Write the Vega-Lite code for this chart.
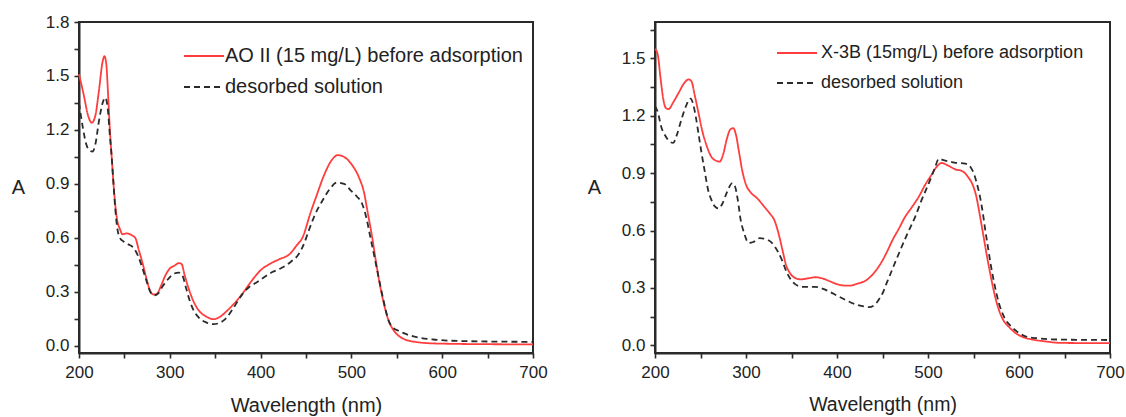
{
  "$schema": "https://vega.github.io/schema/vega-lite/v6.json",
  "padding": {"left": 10, "top": 12, "right": 5, "bottom": 5},
  "background": "white",
  "config": {
    "font": "Liberation Sans",
    "view": {"stroke": "#2a2a2a", "strokeWidth": 2},
    "axis": {
      "grid": false, "domain": true, "domainColor": "#2a2a2a", "domainWidth": 2, "ticks": true, "zindex": 1,
      "tickColor": "#2a2a2a", "tickWidth": 1.6, "labelFlush": false,
      "labelColor": "#222", "labelFontSize": 17, "labelFont": "Liberation Sans",
      "titleColor": "#222", "titleFontSize": 20, "titleFontWeight": "normal", "titleFont": "Liberation Sans"
    },
    "legend": {
      "orient": "none", "symbolType": "stroke", "symbolSize": 1600, "symbolStrokeWidth": 2,
      "labelFontSize": 20, "labelColor": "#222", "labelFont": "Liberation Sans", "labelOffset": 0,
      "rowPadding": -17, "padding": 0, "title": null, "labelLimit": 400
    }
  },
  "datasets": {
    "left": [
      {"series":"AO II (15 mg/L) before adsorption","nm":200,"A":1.51},{"series":"AO II (15 mg/L) before adsorption","nm":205,"A":1.40},{"series":"AO II (15 mg/L) before adsorption","nm":210,"A":1.28},{"series":"AO II (15 mg/L) before adsorption","nm":214,"A":1.24},{"series":"AO II (15 mg/L) before adsorption","nm":218,"A":1.28},{"series":"AO II (15 mg/L) before adsorption","nm":222,"A":1.42},{"series":"AO II (15 mg/L) before adsorption","nm":226,"A":1.58},{"series":"AO II (15 mg/L) before adsorption","nm":228,"A":1.61},{"series":"AO II (15 mg/L) before adsorption","nm":230,"A":1.57},{"series":"AO II (15 mg/L) before adsorption","nm":232,"A":1.40},{"series":"AO II (15 mg/L) before adsorption","nm":234,"A":1.20},{"series":"AO II (15 mg/L) before adsorption","nm":236,"A":1.05},{"series":"AO II (15 mg/L) before adsorption","nm":238,"A":0.90},{"series":"AO II (15 mg/L) before adsorption","nm":240,"A":0.78},{"series":"AO II (15 mg/L) before adsorption","nm":242,"A":0.70},{"series":"AO II (15 mg/L) before adsorption","nm":245,"A":0.65},{"series":"AO II (15 mg/L) before adsorption","nm":248,"A":0.62},{"series":"AO II (15 mg/L) before adsorption","nm":253,"A":0.625},{"series":"AO II (15 mg/L) before adsorption","nm":258,"A":0.615},{"series":"AO II (15 mg/L) before adsorption","nm":262,"A":0.60},{"series":"AO II (15 mg/L) before adsorption","nm":266,"A":0.53},{"series":"AO II (15 mg/L) before adsorption","nm":270,"A":0.46},{"series":"AO II (15 mg/L) before adsorption","nm":274,"A":0.38},{"series":"AO II (15 mg/L) before adsorption","nm":278,"A":0.31},{"series":"AO II (15 mg/L) before adsorption","nm":282,"A":0.285},{"series":"AO II (15 mg/L) before adsorption","nm":286,"A":0.29},{"series":"AO II (15 mg/L) before adsorption","nm":290,"A":0.33},{"series":"AO II (15 mg/L) before adsorption","nm":295,"A":0.39},{"series":"AO II (15 mg/L) before adsorption","nm":300,"A":0.43},{"series":"AO II (15 mg/L) before adsorption","nm":305,"A":0.445},{"series":"AO II (15 mg/L) before adsorption","nm":310,"A":0.46},{"series":"AO II (15 mg/L) before adsorption","nm":313,"A":0.455},{"series":"AO II (15 mg/L) before adsorption","nm":316,"A":0.40},{"series":"AO II (15 mg/L) before adsorption","nm":320,"A":0.33},{"series":"AO II (15 mg/L) before adsorption","nm":325,"A":0.26},{"series":"AO II (15 mg/L) before adsorption","nm":330,"A":0.21},{"series":"AO II (15 mg/L) before adsorption","nm":335,"A":0.18},{"series":"AO II (15 mg/L) before adsorption","nm":340,"A":0.163},{"series":"AO II (15 mg/L) before adsorption","nm":348,"A":0.148},{"series":"AO II (15 mg/L) before adsorption","nm":355,"A":0.16},{"series":"AO II (15 mg/L) before adsorption","nm":362,"A":0.19},{"series":"AO II (15 mg/L) before adsorption","nm":370,"A":0.23},{"series":"AO II (15 mg/L) before adsorption","nm":380,"A":0.29},{"series":"AO II (15 mg/L) before adsorption","nm":390,"A":0.36},{"series":"AO II (15 mg/L) before adsorption","nm":400,"A":0.42},{"series":"AO II (15 mg/L) before adsorption","nm":410,"A":0.455},{"series":"AO II (15 mg/L) before adsorption","nm":420,"A":0.48},{"series":"AO II (15 mg/L) before adsorption","nm":432,"A":0.51},{"series":"AO II (15 mg/L) before adsorption","nm":440,"A":0.56},{"series":"AO II (15 mg/L) before adsorption","nm":446,"A":0.60},{"series":"AO II (15 mg/L) before adsorption","nm":455,"A":0.74},{"series":"AO II (15 mg/L) before adsorption","nm":462,"A":0.84},{"series":"AO II (15 mg/L) before adsorption","nm":470,"A":0.95},{"series":"AO II (15 mg/L) before adsorption","nm":478,"A":1.03},{"series":"AO II (15 mg/L) before adsorption","nm":485,"A":1.06},{"series":"AO II (15 mg/L) before adsorption","nm":492,"A":1.05},{"series":"AO II (15 mg/L) before adsorption","nm":500,"A":1.01},{"series":"AO II (15 mg/L) before adsorption","nm":508,"A":0.94},{"series":"AO II (15 mg/L) before adsorption","nm":514,"A":0.85},{"series":"AO II (15 mg/L) before adsorption","nm":518,"A":0.74},{"series":"AO II (15 mg/L) before adsorption","nm":523,"A":0.60},{"series":"AO II (15 mg/L) before adsorption","nm":527,"A":0.47},{"series":"AO II (15 mg/L) before adsorption","nm":531,"A":0.35},{"series":"AO II (15 mg/L) before adsorption","nm":536,"A":0.23},{"series":"AO II (15 mg/L) before adsorption","nm":541,"A":0.14},{"series":"AO II (15 mg/L) before adsorption","nm":546,"A":0.09},{"series":"AO II (15 mg/L) before adsorption","nm":552,"A":0.056},{"series":"AO II (15 mg/L) before adsorption","nm":560,"A":0.033},{"series":"AO II (15 mg/L) before adsorption","nm":570,"A":0.022},{"series":"AO II (15 mg/L) before adsorption","nm":580,"A":0.016},{"series":"AO II (15 mg/L) before adsorption","nm":600,"A":0.012},{"series":"AO II (15 mg/L) before adsorption","nm":650,"A":0.009},{"series":"AO II (15 mg/L) before adsorption","nm":700,"A":0.008},
      {"series":"desorbed solution","nm":200,"A":1.35},{"series":"desorbed solution","nm":204,"A":1.22},{"series":"desorbed solution","nm":208,"A":1.12},{"series":"desorbed solution","nm":212,"A":1.085},{"series":"desorbed solution","nm":215,"A":1.08},{"series":"desorbed solution","nm":218,"A":1.12},{"series":"desorbed solution","nm":222,"A":1.25},{"series":"desorbed solution","nm":226,"A":1.35},{"series":"desorbed solution","nm":229,"A":1.38},{"series":"desorbed solution","nm":232,"A":1.30},{"series":"desorbed solution","nm":234,"A":1.17},{"series":"desorbed solution","nm":236,"A":1.05},{"series":"desorbed solution","nm":238,"A":0.90},{"series":"desorbed solution","nm":240,"A":0.76},{"series":"desorbed solution","nm":242,"A":0.66},{"series":"desorbed solution","nm":245,"A":0.60},{"series":"desorbed solution","nm":249,"A":0.58},{"series":"desorbed solution","nm":254,"A":0.565},{"series":"desorbed solution","nm":260,"A":0.545},{"series":"desorbed solution","nm":265,"A":0.50},{"series":"desorbed solution","nm":270,"A":0.43},{"series":"desorbed solution","nm":275,"A":0.35},{"series":"desorbed solution","nm":279,"A":0.295},{"series":"desorbed solution","nm":283,"A":0.28},{"series":"desorbed solution","nm":287,"A":0.29},{"series":"desorbed solution","nm":292,"A":0.33},{"series":"desorbed solution","nm":298,"A":0.37},{"series":"desorbed solution","nm":304,"A":0.40},{"series":"desorbed solution","nm":310,"A":0.407},{"series":"desorbed solution","nm":314,"A":0.39},{"series":"desorbed solution","nm":318,"A":0.32},{"series":"desorbed solution","nm":322,"A":0.25},{"series":"desorbed solution","nm":327,"A":0.19},{"series":"desorbed solution","nm":332,"A":0.157},{"series":"desorbed solution","nm":340,"A":0.13},{"series":"desorbed solution","nm":348,"A":0.12},{"series":"desorbed solution","nm":355,"A":0.128},{"series":"desorbed solution","nm":361,"A":0.148},{"series":"desorbed solution","nm":370,"A":0.21},{"series":"desorbed solution","nm":380,"A":0.287},{"series":"desorbed solution","nm":388,"A":0.33},{"series":"desorbed solution","nm":395,"A":0.35},{"series":"desorbed solution","nm":405,"A":0.385},{"series":"desorbed solution","nm":413,"A":0.41},{"series":"desorbed solution","nm":422,"A":0.43},{"series":"desorbed solution","nm":434,"A":0.47},{"series":"desorbed solution","nm":442,"A":0.51},{"series":"desorbed solution","nm":448,"A":0.57},{"series":"desorbed solution","nm":453,"A":0.64},{"series":"desorbed solution","nm":460,"A":0.73},{"series":"desorbed solution","nm":468,"A":0.806},{"series":"desorbed solution","nm":476,"A":0.87},{"series":"desorbed solution","nm":484,"A":0.907},{"series":"desorbed solution","nm":492,"A":0.90},{"series":"desorbed solution","nm":500,"A":0.86},{"series":"desorbed solution","nm":506,"A":0.83},{"series":"desorbed solution","nm":512,"A":0.787},{"series":"desorbed solution","nm":517,"A":0.70},{"series":"desorbed solution","nm":521,"A":0.60},{"series":"desorbed solution","nm":526,"A":0.48},{"series":"desorbed solution","nm":530,"A":0.38},{"series":"desorbed solution","nm":535,"A":0.26},{"series":"desorbed solution","nm":541,"A":0.14},{"series":"desorbed solution","nm":546,"A":0.10},{"series":"desorbed solution","nm":552,"A":0.083},{"series":"desorbed solution","nm":563,"A":0.06},{"series":"desorbed solution","nm":574,"A":0.046},{"series":"desorbed solution","nm":590,"A":0.035},{"series":"desorbed solution","nm":611,"A":0.028},{"series":"desorbed solution","nm":650,"A":0.024},{"series":"desorbed solution","nm":700,"A":0.022}
    ],
    "right": [
      {"series":"X-3B (15mg/L) before adsorption","nm":200,"A":1.55},{"series":"X-3B (15mg/L) before adsorption","nm":203,"A":1.52},{"series":"X-3B (15mg/L) before adsorption","nm":206,"A":1.40},{"series":"X-3B (15mg/L) before adsorption","nm":209,"A":1.29},{"series":"X-3B (15mg/L) before adsorption","nm":212,"A":1.24},{"series":"X-3B (15mg/L) before adsorption","nm":215,"A":1.235},{"series":"X-3B (15mg/L) before adsorption","nm":220,"A":1.27},{"series":"X-3B (15mg/L) before adsorption","nm":226,"A":1.32},{"series":"X-3B (15mg/L) before adsorption","nm":232,"A":1.37},{"series":"X-3B (15mg/L) before adsorption","nm":237,"A":1.39},{"series":"X-3B (15mg/L) before adsorption","nm":240,"A":1.38},{"series":"X-3B (15mg/L) before adsorption","nm":244,"A":1.30},{"series":"X-3B (15mg/L) before adsorption","nm":248,"A":1.21},{"series":"X-3B (15mg/L) before adsorption","nm":252,"A":1.12},{"series":"X-3B (15mg/L) before adsorption","nm":257,"A":1.04},{"series":"X-3B (15mg/L) before adsorption","nm":262,"A":0.985},{"series":"X-3B (15mg/L) before adsorption","nm":267,"A":0.965},{"series":"X-3B (15mg/L) before adsorption","nm":271,"A":0.96},{"series":"X-3B (15mg/L) before adsorption","nm":275,"A":1.00},{"series":"X-3B (15mg/L) before adsorption","nm":279,"A":1.08},{"series":"X-3B (15mg/L) before adsorption","nm":283,"A":1.13},{"series":"X-3B (15mg/L) before adsorption","nm":286,"A":1.135},{"series":"X-3B (15mg/L) before adsorption","nm":289,"A":1.10},{"series":"X-3B (15mg/L) before adsorption","nm":292,"A":1.02},{"series":"X-3B (15mg/L) before adsorption","nm":296,"A":0.91},{"series":"X-3B (15mg/L) before adsorption","nm":300,"A":0.84},{"series":"X-3B (15mg/L) before adsorption","nm":305,"A":0.80},{"series":"X-3B (15mg/L) before adsorption","nm":312,"A":0.77},{"series":"X-3B (15mg/L) before adsorption","nm":320,"A":0.725},{"series":"X-3B (15mg/L) before adsorption","nm":326,"A":0.69},{"series":"X-3B (15mg/L) before adsorption","nm":331,"A":0.656},{"series":"X-3B (15mg/L) before adsorption","nm":336,"A":0.58},{"series":"X-3B (15mg/L) before adsorption","nm":340,"A":0.50},{"series":"X-3B (15mg/L) before adsorption","nm":344,"A":0.42},{"series":"X-3B (15mg/L) before adsorption","nm":348,"A":0.38},{"series":"X-3B (15mg/L) before adsorption","nm":353,"A":0.355},{"series":"X-3B (15mg/L) before adsorption","nm":360,"A":0.345},{"series":"X-3B (15mg/L) before adsorption","nm":368,"A":0.35},{"series":"X-3B (15mg/L) before adsorption","nm":376,"A":0.356},{"series":"X-3B (15mg/L) before adsorption","nm":384,"A":0.35},{"series":"X-3B (15mg/L) before adsorption","nm":392,"A":0.335},{"series":"X-3B (15mg/L) before adsorption","nm":400,"A":0.32},{"series":"X-3B (15mg/L) before adsorption","nm":407,"A":0.313},{"series":"X-3B (15mg/L) before adsorption","nm":414,"A":0.312},{"series":"X-3B (15mg/L) before adsorption","nm":422,"A":0.322},{"series":"X-3B (15mg/L) before adsorption","nm":432,"A":0.34},{"series":"X-3B (15mg/L) before adsorption","nm":440,"A":0.375},{"series":"X-3B (15mg/L) before adsorption","nm":447,"A":0.42},{"series":"X-3B (15mg/L) before adsorption","nm":454,"A":0.48},{"series":"X-3B (15mg/L) before adsorption","nm":461,"A":0.55},{"series":"X-3B (15mg/L) before adsorption","nm":468,"A":0.61},{"series":"X-3B (15mg/L) before adsorption","nm":475,"A":0.673},{"series":"X-3B (15mg/L) before adsorption","nm":482,"A":0.72},{"series":"X-3B (15mg/L) before adsorption","nm":490,"A":0.778},{"series":"X-3B (15mg/L) before adsorption","nm":497,"A":0.84},{"series":"X-3B (15mg/L) before adsorption","nm":503,"A":0.885},{"series":"X-3B (15mg/L) before adsorption","nm":509,"A":0.93},{"series":"X-3B (15mg/L) before adsorption","nm":515,"A":0.953},{"series":"X-3B (15mg/L) before adsorption","nm":522,"A":0.94},{"series":"X-3B (15mg/L) before adsorption","nm":530,"A":0.92},{"series":"X-3B (15mg/L) before adsorption","nm":538,"A":0.91},{"series":"X-3B (15mg/L) before adsorption","nm":544,"A":0.88},{"series":"X-3B (15mg/L) before adsorption","nm":549,"A":0.84},{"series":"X-3B (15mg/L) before adsorption","nm":553,"A":0.78},{"series":"X-3B (15mg/L) before adsorption","nm":557,"A":0.68},{"series":"X-3B (15mg/L) before adsorption","nm":561,"A":0.57},{"series":"X-3B (15mg/L) before adsorption","nm":565,"A":0.46},{"series":"X-3B (15mg/L) before adsorption","nm":569,"A":0.36},{"series":"X-3B (15mg/L) before adsorption","nm":573,"A":0.27},{"series":"X-3B (15mg/L) before adsorption","nm":578,"A":0.184},{"series":"X-3B (15mg/L) before adsorption","nm":583,"A":0.13},{"series":"X-3B (15mg/L) before adsorption","nm":589,"A":0.096},{"series":"X-3B (15mg/L) before adsorption","nm":596,"A":0.065},{"series":"X-3B (15mg/L) before adsorption","nm":604,"A":0.044},{"series":"X-3B (15mg/L) before adsorption","nm":615,"A":0.030},{"series":"X-3B (15mg/L) before adsorption","nm":630,"A":0.02},{"series":"X-3B (15mg/L) before adsorption","nm":645,"A":0.013},{"series":"X-3B (15mg/L) before adsorption","nm":670,"A":0.012},{"series":"X-3B (15mg/L) before adsorption","nm":700,"A":0.012},
      {"series":"desorbed solution","nm":200,"A":1.25},{"series":"desorbed solution","nm":203,"A":1.22},{"series":"desorbed solution","nm":207,"A":1.14},{"series":"desorbed solution","nm":212,"A":1.09},{"series":"desorbed solution","nm":216,"A":1.065},{"series":"desorbed solution","nm":220,"A":1.058},{"series":"desorbed solution","nm":224,"A":1.10},{"series":"desorbed solution","nm":229,"A":1.18},{"series":"desorbed solution","nm":234,"A":1.25},{"series":"desorbed solution","nm":239,"A":1.29},{"series":"desorbed solution","nm":242,"A":1.26},{"series":"desorbed solution","nm":245,"A":1.19},{"series":"desorbed solution","nm":248,"A":1.10},{"series":"desorbed solution","nm":251,"A":1.01},{"series":"desorbed solution","nm":255,"A":0.90},{"series":"desorbed solution","nm":258,"A":0.82},{"series":"desorbed solution","nm":262,"A":0.76},{"series":"desorbed solution","nm":266,"A":0.725},{"series":"desorbed solution","nm":270,"A":0.715},{"series":"desorbed solution","nm":274,"A":0.74},{"series":"desorbed solution","nm":279,"A":0.80},{"series":"desorbed solution","nm":285,"A":0.848},{"series":"desorbed solution","nm":288,"A":0.83},{"series":"desorbed solution","nm":291,"A":0.76},{"series":"desorbed solution","nm":294,"A":0.66},{"series":"desorbed solution","nm":298,"A":0.586},{"series":"desorbed solution","nm":303,"A":0.535},{"series":"desorbed solution","nm":308,"A":0.54},{"series":"desorbed solution","nm":315,"A":0.56},{"series":"desorbed solution","nm":322,"A":0.555},{"series":"desorbed solution","nm":329,"A":0.533},{"series":"desorbed solution","nm":335,"A":0.49},{"series":"desorbed solution","nm":340,"A":0.44},{"series":"desorbed solution","nm":344,"A":0.39},{"series":"desorbed solution","nm":349,"A":0.345},{"series":"desorbed solution","nm":354,"A":0.32},{"series":"desorbed solution","nm":362,"A":0.306},{"series":"desorbed solution","nm":375,"A":0.306},{"series":"desorbed solution","nm":384,"A":0.297},{"series":"desorbed solution","nm":392,"A":0.28},{"series":"desorbed solution","nm":400,"A":0.26},{"series":"desorbed solution","nm":410,"A":0.236},{"series":"desorbed solution","nm":420,"A":0.215},{"series":"desorbed solution","nm":428,"A":0.205},{"series":"desorbed solution","nm":435,"A":0.20},{"series":"desorbed solution","nm":441,"A":0.21},{"series":"desorbed solution","nm":446,"A":0.24},{"series":"desorbed solution","nm":450,"A":0.271},{"series":"desorbed solution","nm":455,"A":0.33},{"series":"desorbed solution","nm":461,"A":0.40},{"series":"desorbed solution","nm":468,"A":0.48},{"series":"desorbed solution","nm":477,"A":0.58},{"series":"desorbed solution","nm":486,"A":0.673},{"series":"desorbed solution","nm":493,"A":0.76},{"series":"desorbed solution","nm":501,"A":0.848},{"series":"desorbed solution","nm":507,"A":0.92},{"series":"desorbed solution","nm":512,"A":0.975},{"series":"desorbed solution","nm":517,"A":0.968},{"series":"desorbed solution","nm":523,"A":0.961},{"series":"desorbed solution","nm":529,"A":0.955},{"series":"desorbed solution","nm":534,"A":0.953},{"series":"desorbed solution","nm":541,"A":0.95},{"series":"desorbed solution","nm":547,"A":0.93},{"series":"desorbed solution","nm":551,"A":0.89},{"series":"desorbed solution","nm":554,"A":0.84},{"series":"desorbed solution","nm":557,"A":0.78},{"series":"desorbed solution","nm":560,"A":0.70},{"series":"desorbed solution","nm":563,"A":0.60},{"series":"desorbed solution","nm":566,"A":0.51},{"series":"desorbed solution","nm":569,"A":0.42},{"series":"desorbed solution","nm":573,"A":0.32},{"series":"desorbed solution","nm":578,"A":0.219},{"series":"desorbed solution","nm":584,"A":0.145},{"series":"desorbed solution","nm":592,"A":0.096},{"series":"desorbed solution","nm":600,"A":0.065},{"series":"desorbed solution","nm":607,"A":0.047},{"series":"desorbed solution","nm":620,"A":0.037},{"series":"desorbed solution","nm":647,"A":0.030},{"series":"desorbed solution","nm":700,"A":0.028}
    ]
  },
  "hconcat": [
    {
      "width": 454, "height": 331,
      "data": {"name": "left"},
      "mark": {"type": "line", "strokeWidth": 1.8, "interpolate": "monotone"},
      "encoding": {
        "x": {"field": "nm", "type": "quantitative",
          "scale": {"domain": [200, 700], "nice": false, "zero": false},
          "axis": {"title": "Wavelength (nm)", "values": [200,250,300,350,400,450,500,550,600,650,700],
            "labelExpr": "datum.value % 100 == 0 ? datum.label : ''", "format": "d",
            "tickSize": 5, "labelPadding": 6, "titlePadding": 15}},
        "y": {"field": "A", "type": "quantitative",
          "scale": {"domain": [-0.04, 1.8], "nice": false, "zero": false},
          "axis": {"title": "A", "titleAngle": 0, "titleX": -61, "titleY": 165, "titleAlign": "center", "titleBaseline": "middle",
            "values": [0,0.15,0.3,0.45,0.6,0.75,0.9,1.05,1.2,1.35,1.5,1.65,1.8],
            "labelExpr": "round(datum.value*100) % 30 == 0 ? format(datum.value, '.1f') : ''",
            "tickSize": 5, "labelPadding": 5}},
        "color": {"field": "series", "type": "nominal",
          "scale": {"domain": ["AO II (15 mg/L) before adsorption", "desorbed solution"], "range": ["#ff3d3d", "#2b2b2b"]},
          "legend": {"legendX": 104, "legendY": 13}},
        "strokeDash": {"field": "series", "type": "nominal",
          "scale": {"domain": ["AO II (15 mg/L) before adsorption", "desorbed solution"], "range": [[1,0],[6,4]]},
          "legend": {"legendX": 104, "legendY": 13}}
      }
    },
    {
      "width": 455, "height": 331,
      "data": {"name": "right"},
      "mark": {"type": "line", "strokeWidth": 1.8, "interpolate": "monotone"},
      "encoding": {
        "x": {"field": "nm", "type": "quantitative",
          "scale": {"domain": [200, 700], "nice": false, "zero": false},
          "axis": {"title": "Wavelength (nm)", "titleFontSize": 19.5, "values": [200,250,300,350,400,450,500,550,600,650,700],
            "labelExpr": "datum.value % 100 == 0 ? datum.label : ''", "format": "d",
            "tickSize": 5, "labelPadding": 6, "titlePadding": 15}},
        "y": {"field": "A", "type": "quantitative",
          "scale": {"domain": [-0.04, 1.69], "nice": false, "zero": false},
          "axis": {"title": "A", "titleAngle": 0, "titleX": -61, "titleY": 165, "titleAlign": "center", "titleBaseline": "middle",
            "values": [0,0.15,0.3,0.45,0.6,0.75,0.9,1.05,1.2,1.35,1.5,1.65],
            "labelExpr": "round(datum.value*100) % 30 == 0 ? format(datum.value, '.1f') : ''",
            "tickSize": 5, "labelPadding": 5}},
        "color": {"field": "series", "type": "nominal",
          "scale": {"domain": ["X-3B (15mg/L) before adsorption", "desorbed solution"], "range": ["#ff3d3d", "#2b2b2b"]},
          "legend": {"legendX": 121, "legendY": 10, "labelFontSize": 18, "labelOffset": 3}},
        "strokeDash": {"field": "series", "type": "nominal",
          "scale": {"domain": ["X-3B (15mg/L) before adsorption", "desorbed solution"], "range": [[1,0],[6,4]]},
          "legend": {"legendX": 121, "legendY": 10, "labelFontSize": 18, "labelOffset": 3}}
      }
    }
  ],
  "spacing": 37,
  "resolve": {"scale": {"color": "independent", "strokeDash": "independent"},
              "legend": {"color": "independent", "strokeDash": "independent"}}
}
